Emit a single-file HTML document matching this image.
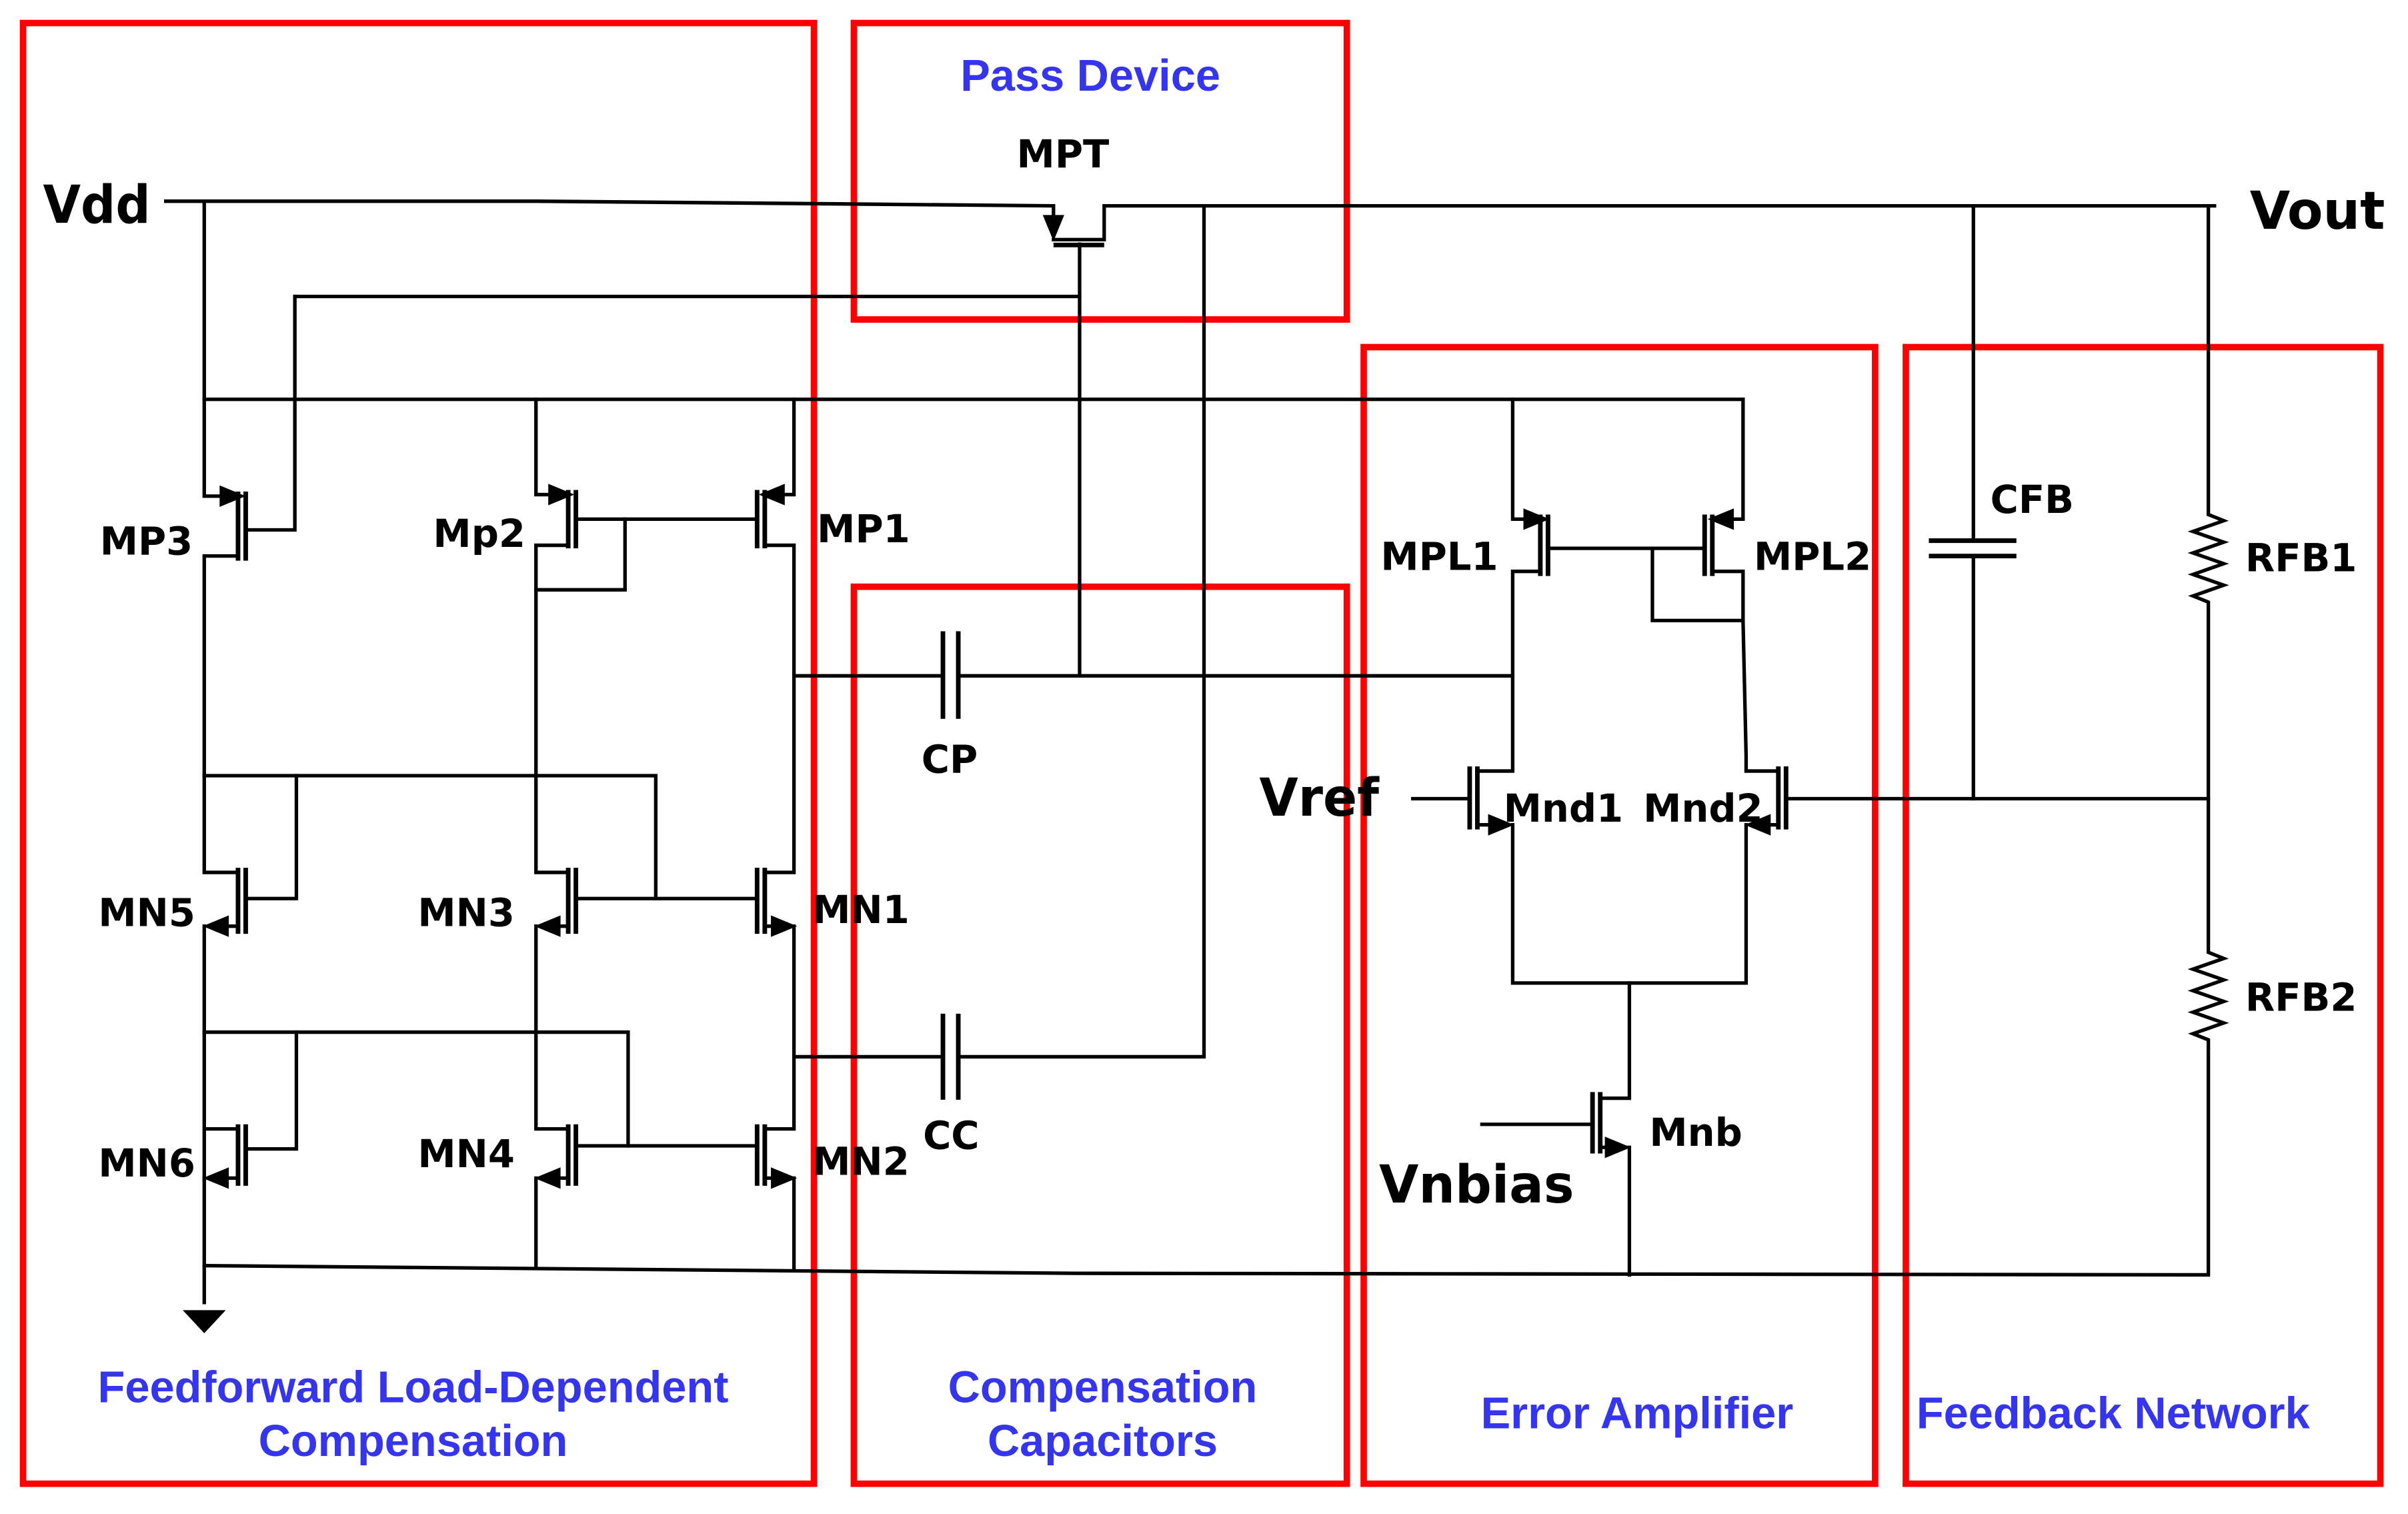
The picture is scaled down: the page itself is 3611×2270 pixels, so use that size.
<!DOCTYPE html>
<html><head><meta charset="utf-8"><style>
html,body{margin:0;padding:0;background:#fff;}
svg{display:block;}
.w{stroke:#000;stroke-width:2.3;fill:none;stroke-linecap:square;}
.g{stroke:#000;stroke-width:3;fill:none;}
.r{stroke:#ff0000;stroke-width:4.2;fill:none;}
.l{font-family:"DejaVu Sans","Liberation Sans",sans-serif;font-weight:bold;font-size:25px;fill:#000;}
.b{font-family:"Liberation Sans",sans-serif;font-weight:bold;font-size:29px;fill:#3535ee;text-anchor:middle;}
.big{font-family:"DejaVu Sans","Liberation Sans",sans-serif;font-weight:bold;font-size:34px;fill:#000;}
.a{fill:#000;stroke:none;}
</style></head><body>
<svg width="3611" height="2270" viewBox="0 0 1568 985.7" preserveAspectRatio="none" xmlns="http://www.w3.org/2000/svg">
<rect width="1568" height="986" fill="#fff"/>
<rect class="r" x="15" y="15" width="515" height="951"/>
<rect class="r" x="556" y="15" width="321" height="193"/>
<rect class="r" x="556" y="382" width="321" height="584"/>
<rect class="r" x="888" y="226" width="333" height="740"/>
<rect class="r" x="1241" y="226" width="309" height="740"/>

<path class="w" d="M108 131 L350 131 L686 134 L686 142"/>
<polygon class="a" points="679,140 693,140 686,157"/>
<path class="w" d="M686 156 L719 156 L719 134 L1442 134"/>
<path class="g" d="M686 159.5 L719 159.5"/>
<path class="w" d="M703 159 L703 440"/>
<path class="w" d="M784 134 L784 688 L624 688"/>
<path class="w" d="M192 193 L703 193"/>
<path class="w" d="M192 193 L192 345 L160 345"/>

<path class="w" d="M133 131 L133 323 L144 323"/>
<path class="w" d="M133 260 L1135 260"/>

<!-- MP3 -->
<polygon class="a" points="160,323 143,316 143,330"/>
<path class="g" d="M155 320 L155 365 M160 320 L160 365"/>
<path class="w" d="M155 362 L133 362 L133 568 L155 568"/>
<!-- Mp2 -->
<path class="w" d="M349 260 L349 322 L358 322"/>
<polygon class="a" points="374,322 357,315 357,329"/>
<path class="g" d="M370 319 L370 357 M375 319 L375 357"/>
<path class="w" d="M375 338 L493 338"/>
<path class="w" d="M370 355 L349 355 L349 568 L370 568"/>
<path class="w" d="M407 338 L407 384 L349 384"/>
<!-- MP1 -->
<path class="w" d="M517 260 L517 322 L510 322"/>
<polygon class="a" points="494,322 511,315 511,329"/>
<path class="g" d="M498 319 L498 357 M493 319 L493 357"/>
<path class="w" d="M498 355 L517 355 L517 568 L498 568"/>
<!-- CP -->
<path class="w" d="M517 440 L614 440 M624 440 L985 440"/>
<path class="g" d="M614 411 L614 468 M624 411 L624 468"/>
<path class="w" d="M133 505 L427 505 L427 585"/>
<path class="w" d="M193 505 L193 585 L160 585"/>
<!-- MN5 -->
<path class="g" d="M155 565 L155 608 M160 565 L160 608"/>
<path class="w" d="M155 603 L148 603"/>
<polygon class="a" points="132,603 149,596 149,610"/>
<path class="w" d="M133 603 L133 768 M133 735 L155 735"/>
<!-- MN3 -->
<path class="g" d="M370 565 L370 608 M375 565 L375 608"/>
<path class="w" d="M375 585 L493 585"/>
<path class="w" d="M370 603 L364 603"/>
<polygon class="a" points="348,603 365,596 365,610"/>
<path class="w" d="M349 603 L349 735 L370 735"/>
<!-- MN1 -->
<path class="g" d="M498 565 L498 608 M493 565 L493 608"/>
<path class="w" d="M498 603 L503 603"/>
<polygon class="a" points="519,603 502,596 502,610"/>
<path class="w" d="M517 603 L517 735 L498 735"/>
<path class="w" d="M133 672 L409 672 L409 746"/>
<path class="w" d="M193 672 L193 748 L160 748"/>
<path class="w" d="M517 688 L614 688"/>
<path class="g" d="M614 660 L614 716 M624 660 L624 716"/>
<!-- MN6 -->
<path class="g" d="M155 732 L155 772 M160 732 L160 772"/>
<path class="w" d="M155 767 L148 767"/>
<polygon class="a" points="132,767 149,760 149,774"/>
<path class="w" d="M133 767 L133 848"/>
<polygon class="a" points="119,853 147,853 133,868"/>
<!-- MN4 -->
<path class="g" d="M370 732 L370 772 M375 732 L375 772"/>
<path class="w" d="M375 746 L493 746"/>
<path class="w" d="M370 767 L364 767"/>
<polygon class="a" points="348,767 365,760 365,774"/>
<path class="w" d="M349 767 L349 825"/>
<!-- MN2 -->
<path class="g" d="M498 732 L498 772 M493 732 L493 772"/>
<path class="w" d="M498 767 L503 767"/>
<polygon class="a" points="519,767 502,760 502,774"/>
<path class="w" d="M517 767 L517 826"/>
<path class="w" d="M133 824 L700 829 L1438 830 L1438 683"/>

<!-- Error amplifier -->
<path class="w" d="M985 260 L985 338 L993 338"/>
<polygon class="a" points="1009,338 992,331 992,345"/>
<path class="g" d="M1003 335 L1003 375 M1008 335 L1008 375"/>
<path class="w" d="M1008 357 L1110 357"/>
<path class="w" d="M1003 372 L985 372 L985 502 L962 502"/>
<path class="w" d="M1135 260 L1135 338 L1129 338"/>
<polygon class="a" points="1112,338 1129,331 1129,345"/>
<path class="g" d="M1115 335 L1115 375 M1110 335 L1110 375"/>
<path class="w" d="M1115 372 L1135 372 L1135 404 L1076 404 L1076 357"/>
<path class="w" d="M1135 404 L1137 492 L1137 502 L1158 502"/>
<!-- Mnd1 -->
<path class="g" d="M962 499 L962 540 M957 499 L957 540"/>
<path class="w" d="M920 520 L957 520"/>
<path class="w" d="M962 537 L969 537"/>
<polygon class="a" points="986,537 969,530 969,544"/>
<path class="w" d="M985 537 L985 640 L1137 640 L1137 537"/>
<!-- Mnd2 -->
<path class="g" d="M1158 499 L1158 540 M1163 499 L1163 540"/>
<path class="w" d="M1163 520 L1438 520"/>
<path class="w" d="M1158 537 L1153 537"/>
<polygon class="a" points="1136,537 1153,530 1153,544"/>
<!-- Mnb -->
<path class="w" d="M1061 640 L1061 715 L1042 715"/>
<path class="g" d="M1042 711 L1042 751 M1037 711 L1037 751"/>
<path class="w" d="M965 732 L1037 732"/>
<path class="w" d="M1042 747 L1045 747"/>
<polygon class="a" points="1062,747 1045,740 1045,754"/>
<path class="w" d="M1061 747 L1061 830"/>

<!-- Feedback -->
<path class="w" d="M1285 134 L1285 352 M1285 362 L1285 520"/>
<path class="g" d="M1256 352 L1313 352 M1256 362 L1313 362"/>
<path class="w" d="M1438 134 L1438 335 L1448 339 L1428 346 L1448 353 L1428 360 L1448 367 L1428 374 L1448 381 L1428 388 L1438 392 L1438 620 L1448 624 L1428 631 L1448 638 L1428 645 L1448 652 L1428 659 L1448 666 L1428 673 L1438 677 L1438 683" style="stroke-linecap:butt;stroke-linejoin:miter"/>

<text class="big" x="28" y="145" textLength="70" lengthAdjust="spacingAndGlyphs">Vdd</text>
<text class="big" x="1465" y="149" textLength="88" lengthAdjust="spacingAndGlyphs">Vout</text>
<text class="big" x="820" y="531" textLength="78" lengthAdjust="spacingAndGlyphs">Vref</text>
<text class="big" x="898" y="783" textLength="127" lengthAdjust="spacingAndGlyphs">Vnbias</text>
<text class="l" x="662" y="109">MPT</text>
<text class="l" x="65" y="361">MP3</text>
<text class="l" x="282" y="356">Mp2</text>
<text class="l" x="532" y="353">MP1</text>
<text class="l" x="64" y="603">MN5</text>
<text class="l" x="272" y="603">MN3</text>
<text class="l" x="529" y="601">MN1</text>
<text class="l" x="64" y="766">MN6</text>
<text class="l" x="272" y="760">MN4</text>
<text class="l" x="529" y="765">MN2</text>
<text class="l" x="600" y="503">CP</text>
<text class="l" x="601" y="748">CC</text>
<text class="l" x="1296" y="334">CFB</text>
<text class="l" x="1462" y="372">RFB1</text>
<text class="l" x="1462" y="658">RFB2</text>
<text class="l" x="899" y="371">MPL1</text>
<text class="l" x="1142" y="371">MPL2</text>
<text class="l" x="979" y="535">Mnd1</text>
<text class="l" x="1070" y="535">Mnd2</text>
<text class="l" x="1074" y="746">Mnb</text>

<text class="b" x="710" y="59">Pass Device</text>
<text class="b" x="269" y="913">Feedforward Load-Dependent</text>
<text class="b" x="269" y="948">Compensation</text>
<text class="b" x="718" y="913">Compensation</text>
<text class="b" x="718" y="948">Capacitors</text>
<text class="b" x="1066" y="930">Error Amplifier</text>
<text class="b" x="1376" y="930">Feedback Network</text>
</svg>
</body></html>
